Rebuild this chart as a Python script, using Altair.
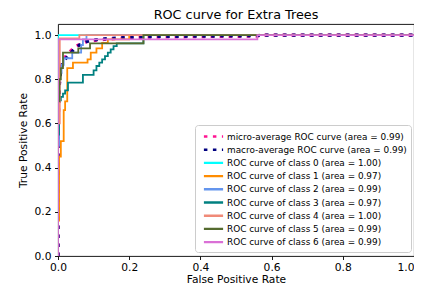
import altair as alt
import pandas as pd

series_names = [
    "micro-average ROC curve (area = 0.99)",
    "macro-average ROC curve (area = 0.99)",
    "ROC curve of class 0 (area = 1.00)",
    "ROC curve of class 1 (area = 0.97)",
    "ROC curve of class 2 (area = 0.99)",
    "ROC curve of class 3 (area = 0.97)",
    "ROC curve of class 4 (area = 1.00)",
    "ROC curve of class 5 (area = 0.99)",
    "ROC curve of class 6 (area = 0.99)",
]
colors = ["#ff1493", "#000080", "#00ffff", "#ff8c00", "#6495ed",
          "#008080", "#f08a78", "#556b2f", "#da70d6"]

micro_fpr = [0, 0, 0.003, 0.006, 0.01, 0.015, 0.02, 0.03, 0.04, 0.05, 0.065, 0.08, 0.1, 0.13, 0.17, 0.24, 0.4, 0.56, 0.57, 1.0]
micro_tpr = [0, 0.55, 0.75, 0.82, 0.86, 0.88, 0.9, 0.92, 0.935, 0.95, 0.96, 0.97, 0.975, 0.98, 0.985, 0.99, 0.993, 0.995, 1.0, 1.0]

macro_fpr = [0, 0, 0.004, 0.008, 0.012, 0.02, 0.03, 0.045, 0.06, 0.08, 0.1, 0.13, 0.165, 0.24, 0.56, 0.57, 1.0]
macro_tpr = [0, 0.6, 0.78, 0.84, 0.87, 0.89, 0.91, 0.935, 0.955, 0.97, 0.978, 0.983, 0.987, 0.993, 0.997, 1.0, 1.0]

c0_fpr = [0, 0, 1.0]
c0_tpr = [0, 1.0, 1.0]

c1_fpr = [0, 0, 0.003, 0.003, 0.008, 0.008, 0.016, 0.016, 0.02, 0.02, 0.026, 0.026, 0.042, 0.042, 0.083, 0.083, 0.092, 0.092, 0.108, 0.108, 0.124, 0.124, 0.14, 0.14, 0.2, 0.2, 1.0]
c1_tpr = [0, 0.16, 0.16, 0.45, 0.45, 0.52, 0.52, 0.66, 0.66, 0.70, 0.70, 0.85, 0.85, 0.875, 0.875, 0.89, 0.89, 0.92, 0.92, 0.94, 0.94, 0.965, 0.965, 0.98, 0.98, 1.0, 1.0]

c2_fpr = [0, 0, 0.003, 0.003, 0.006, 0.006, 0.01, 0.01, 0.016, 0.016, 0.04, 0.04, 0.065, 0.065, 0.07, 0.07, 0.08, 0.08, 1.0]
c2_tpr = [0, 0.5, 0.5, 0.80, 0.80, 0.83, 0.83, 0.865, 0.865, 0.895, 0.895, 0.92, 0.92, 0.955, 0.955, 0.98, 0.98, 1.0, 1.0]

c3_fpr = [0, 0, 0.003, 0.003, 0.008, 0.008, 0.014, 0.014, 0.02, 0.02, 0.028, 0.028, 0.07, 0.07, 0.1, 0.1, 0.108, 0.108, 0.116, 0.116, 0.124, 0.124, 0.132, 0.132, 0.14, 0.14, 0.148, 0.148, 0.156, 0.156, 0.165, 0.165, 0.24, 0.24, 1.0]
c3_tpr = [0, 0.55, 0.55, 0.705, 0.705, 0.72, 0.72, 0.735, 0.735, 0.75, 0.75, 0.785, 0.785, 0.82, 0.82, 0.84, 0.84, 0.86, 0.86, 0.875, 0.875, 0.89, 0.89, 0.905, 0.905, 0.92, 0.92, 0.935, 0.935, 0.95, 0.95, 0.962, 0.962, 1.0, 1.0]

c4_fpr = [0, 0, 0.005, 0.005, 0.06, 0.06, 1.0]
c4_tpr = [0, 0.6, 0.6, 0.985, 0.985, 1.0, 1.0]

c5_fpr = [0, 0, 0.004, 0.004, 0.008, 0.008, 0.014, 0.014, 0.057, 0.057, 0.09, 0.09, 0.24, 0.24, 1.0]
c5_tpr = [0, 0.70, 0.70, 0.80, 0.80, 0.85, 0.85, 0.92, 0.92, 0.94, 0.94, 0.962, 0.962, 1.0, 1.0]

c6_fpr = [0, 0, 0.56, 0.56, 1.0]
c6_tpr = [0, 0.98, 0.98, 1.0, 1.0]

x_ticks = [0.0, 0.2, 0.4, 0.6, 0.8, 1.0]
y_ticks = [0.0, 0.2, 0.4, 0.6, 0.8, 1.0]

curves = [(micro_fpr, micro_tpr), (macro_fpr, macro_tpr), (c0_fpr, c0_tpr),
          (c1_fpr, c1_tpr), (c2_fpr, c2_tpr), (c3_fpr, c3_tpr),
          (c4_fpr, c4_tpr), (c5_fpr, c5_tpr), (c6_fpr, c6_tpr)]

rows = []
for name, (fx, ty) in zip(series_names, curves):
    for i, (a, b) in enumerate(zip(fx, ty)):
        rows.append({"series": name, "fpr": a, "tpr": b, "i": i})
df = pd.DataFrame(rows)

dashes = [[3.5, 5.5], [3.5, 5.5]] + [[1, 0]] * 7
widths = [3.2, 3.2] + [1.8] * 7

FONT = "DejaVu Sans"

legend = alt.Legend(
    title=None, orient="none", legendX=137, legendY=101,
    padding=4, fillColor="white", strokeColor="#cccccc", cornerRadius=3,
    symbolType="M-1.6,0H1.6", symbolSize=144, symbolOffset=7, symbolStrokeWidth=2.4,
    labelFont=FONT, labelFontSize=8.9,
    labelColor="black", labelLimit=400, labelOffset=6, rowPadding=0.2,
)

x_label_align = {"condition": {"test": "datum.value >= 0.99", "value": "right"}, "value": "center"}

layers = []
for name, w in zip(series_names, widths):
    layers.append(
        alt.Chart(df).transform_filter(alt.datum.series == name).mark_line(clip=True, strokeWidth=w).encode(
            x=alt.X("fpr:Q", scale=alt.Scale(domain=[0, 1], nice=False, zero=False),
                    axis=alt.Axis(title="False Positive Rate", values=x_ticks, format=".1f",
                                  labelAlign=x_label_align)),
            y=alt.Y("tpr:Q", scale=alt.Scale(domain=[0, 1.05], nice=False, zero=False),
                    axis=alt.Axis(title="True Positive Rate", values=y_ticks, format=".1f")),
            color=alt.Color("series:N", scale=alt.Scale(domain=series_names, range=colors), legend=legend),
            strokeDash=alt.StrokeDash("series:N", scale=alt.Scale(domain=series_names, range=dashes), legend=legend),
            order=alt.Order("i:Q"),
        )
    )

chart = alt.layer(*layers).properties(
    width=356, height=232,
    autosize=alt.AutoSizeParams(type="none"),
    padding={"left": 50, "top": 16, "right": 0, "bottom": 30},
    title=alt.TitleParams("ROC curve for Extra Trees", font=FONT, fontSize=12.8,
                          fontWeight="normal", color="black", offset=2, anchor="middle"),
).configure_view(stroke="black", strokeWidth=0.9).configure_axis(
    labelFont=FONT, labelFontSize=10.7, labelColor="black", labelFlush=False,
    titleFont=FONT, titleFontSize=10.7, titleFontWeight="normal", titleColor="black",
    tickColor="black", tickSize=3.5, tickWidth=0.9, domain=False, grid=False,
).configure_axisX(labelPadding=2.5, titlePadding=2.5).configure_axisY(labelPadding=3.5, titlePadding=6)

chart.save("out.html", embed_options={"renderer": "svg", "actions": False})
